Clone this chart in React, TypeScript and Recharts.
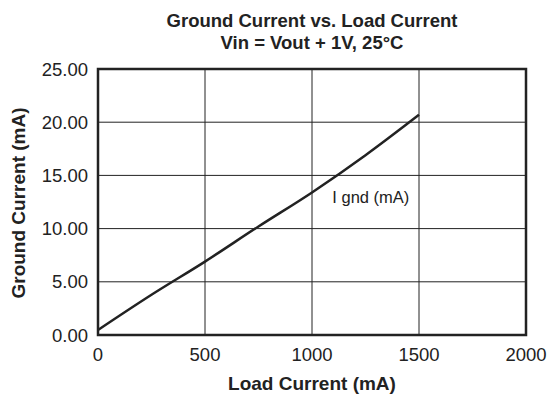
import React from 'react';
import { LineChart, Line, XAxis, YAxis, CartesianGrid, ReferenceArea, ReferenceDot } from 'recharts';

const loadCurrent = [0, 250, 500, 750, 1000, 1250, 1500];
const groundCurrent = [0.47, 3.78, 6.9, 10.2, 13.4, 16.9, 20.7];
const xTicks = [0, 500, 1000, 1500, 2000];
const yTicks = [0, 5, 10, 15, 20, 25];
const titleLines = ['Ground Current vs. Load Current', 'Vin = Vout + 1V, 25°C'];
const xAxisTitle = 'Load Current (mA)';
const yAxisTitle = 'Ground Current (mA)';
const seriesName = 'I gnd (mA)';

const data = loadCurrent.map((x, i) => ({ x, y: groundCurrent[i] }));
const font = 'Liberation Sans, Arial, Helvetica, sans-serif';

export default function App() {
  return (
    <div style={{ position: 'absolute', left: 0, top: 0, width: 550, height: 399, background: '#fff' }}>
      <LineChart width={550} height={399} data={data} margin={{ top: 69, right: 24, bottom: 0, left: 0 }}>
        <CartesianGrid stroke="#222" strokeWidth={1} horizontalValues={yTicks} verticalValues={xTicks} />
        <XAxis
          dataKey="x"
          type="number"
          domain={[0, 2000]}
          ticks={xTicks}
          height={64}
          tickLine={false}
          axisLine={false}
          tickMargin={7}
          tick={{ fontSize: 18.5, fill: '#222', fontFamily: font }}
        />
        <YAxis
          type="number"
          domain={[0, 25]}
          ticks={yTicks}
          width={98}
          tickLine={false}
          axisLine={false}
          tickMargin={4}
          tickFormatter={(v: number) => v.toFixed(2)}
          tick={{ fontSize: 18.5, fill: '#222', fontFamily: font }}
        />
        <ReferenceArea x1={0} x2={2000} y1={0} y2={25} fill="none" stroke="#222" strokeWidth={2.5} fillOpacity={0} />
        <Line dataKey="y" type="monotone" stroke="#222" strokeWidth={2.5} dot={false} isAnimationActive={false} />
        <ReferenceDot
          x={1275}
          y={12.95}
          r={0}
          fill="none"
          stroke="none"
          label={{ value: seriesName, position: 'center', fontSize: 16.5, fill: '#222', fontFamily: font }}
        />
      </LineChart>
      <svg width={550} height={399} style={{ position: 'absolute', left: 0, top: 0, pointerEvents: 'none' }}>
        <g fontFamily={font} fontWeight="bold" fill="#222" textAnchor="middle">
          <text x={312} y={27} fontSize={18.5}>{titleLines[0]}</text>
          <text x={312} y={49} fontSize={18.5}>{titleLines[1]}</text>
          <text x={312} y={390} fontSize={19}>{xAxisTitle}</text>
          <text transform="translate(25,203) rotate(-90)" fontSize={19}>{yAxisTitle}</text>
        </g>
      </svg>
    </div>
  );
}
